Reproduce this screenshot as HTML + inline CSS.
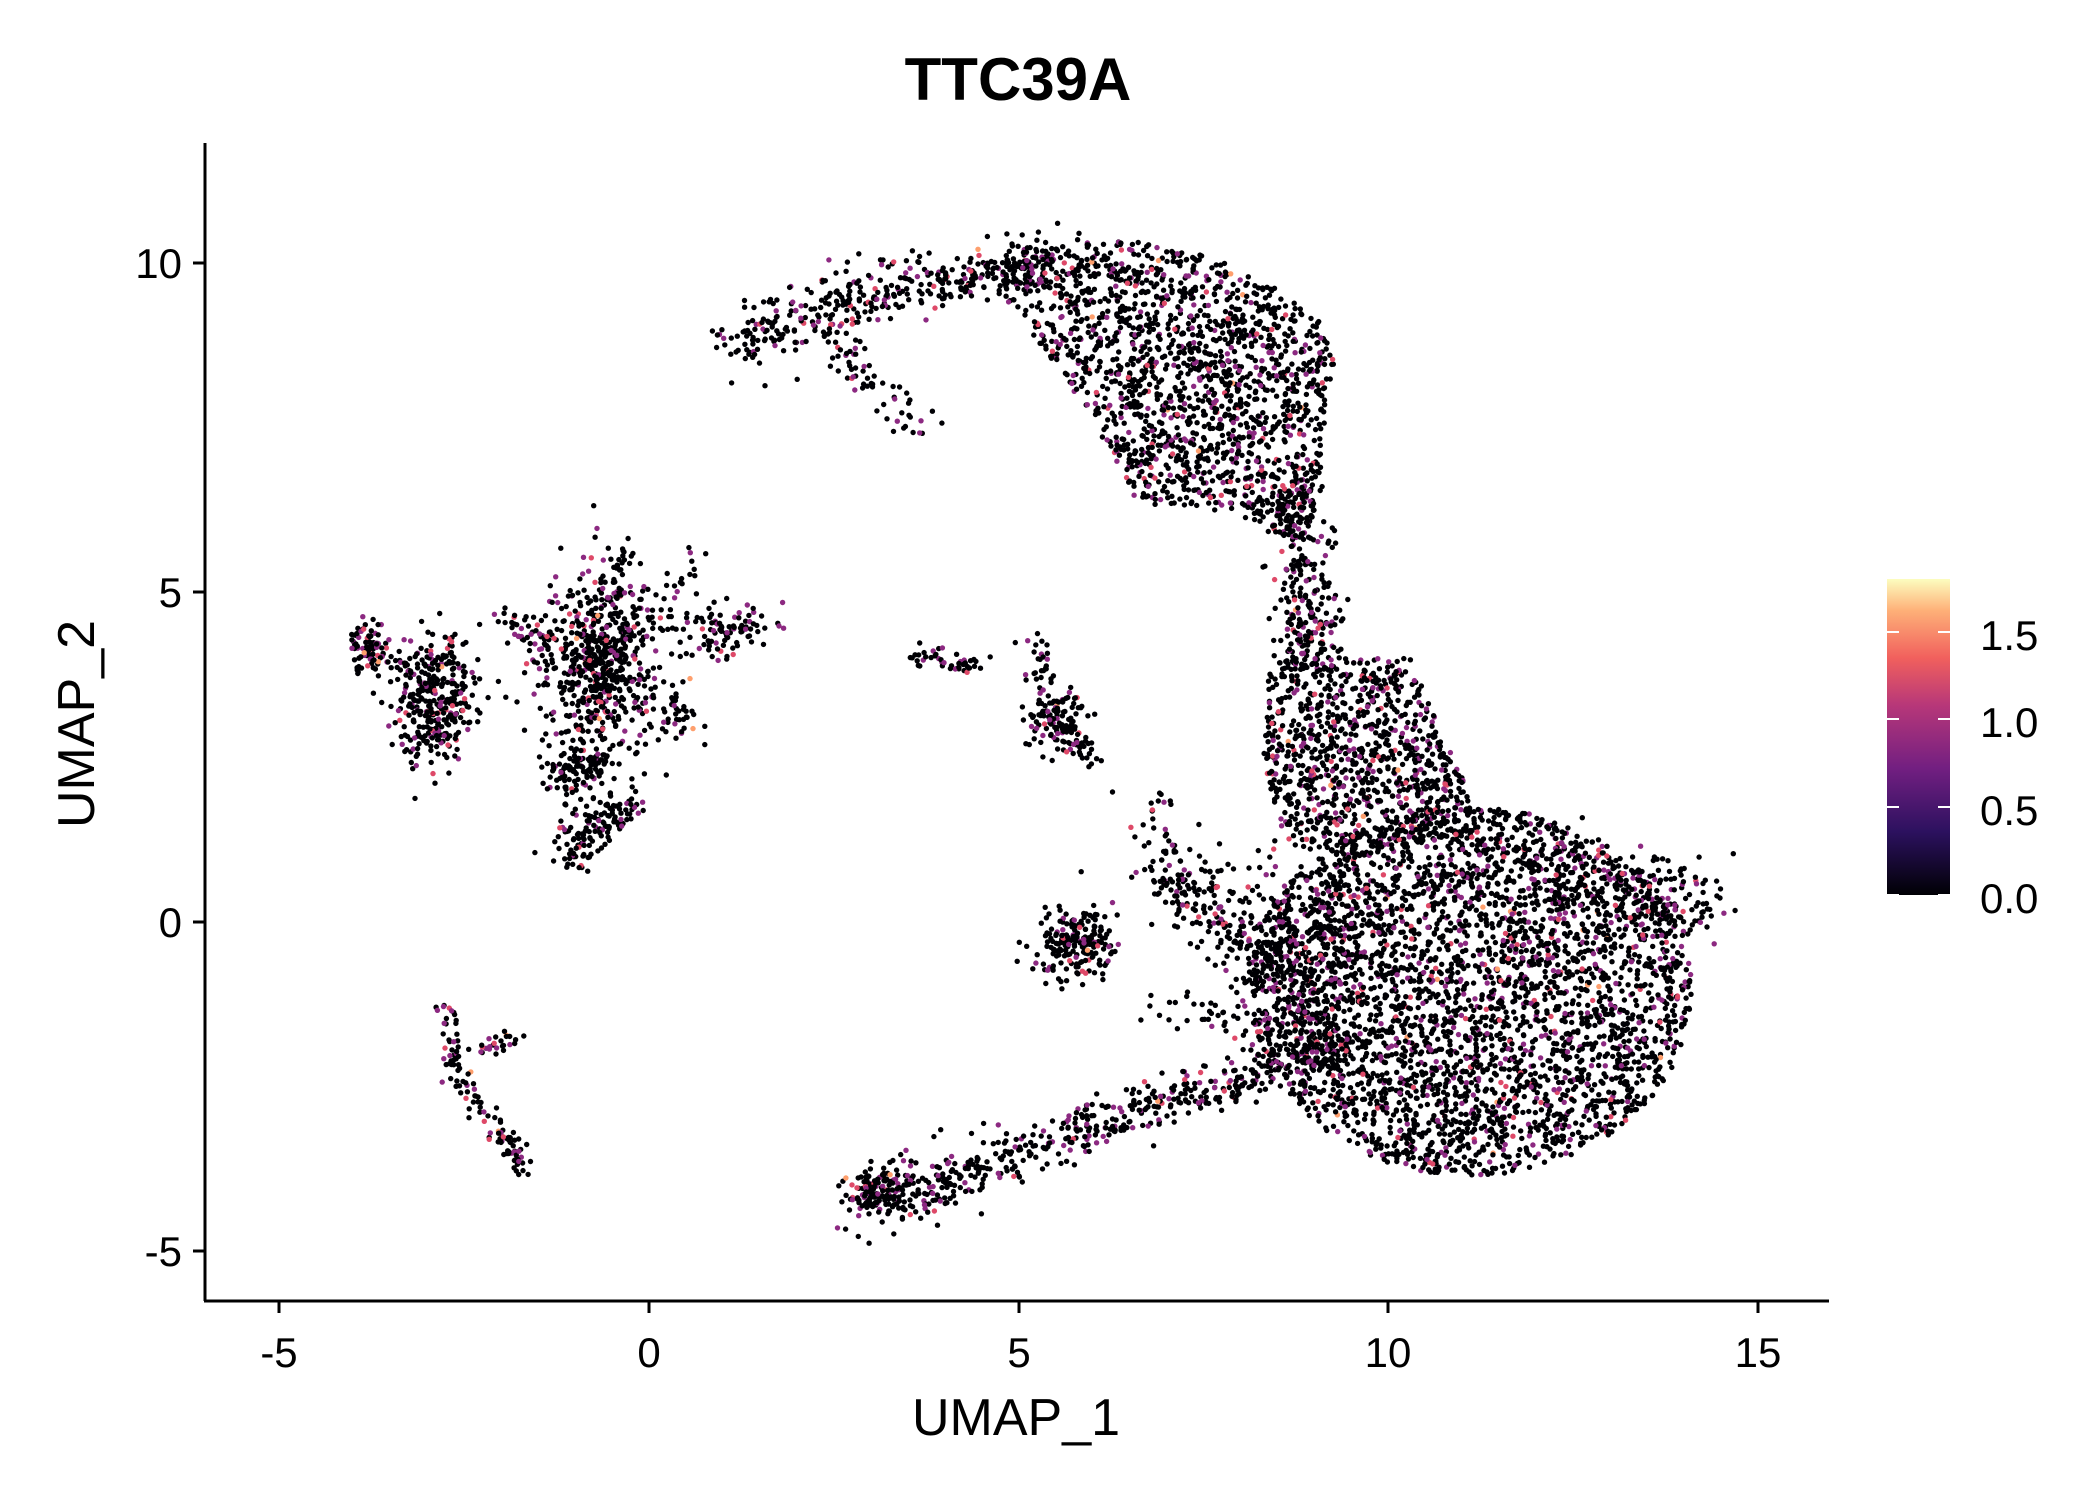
<!DOCTYPE html>
<html><head><meta charset="utf-8"><style>
html,body{margin:0;padding:0;background:#fff;}
svg{display:block;font-family:"Liberation Sans",sans-serif;}
</style></head><body>
<svg id="s" width="2100" height="1500" xmlns="http://www.w3.org/2000/svg">
<defs><linearGradient id="g" x1="0" y1="1" x2="0" y2="0">
<stop offset="0" stop-color="#000004"/><stop offset="0.2" stop-color="#2c115f"/>
<stop offset="0.4" stop-color="#721f81"/><stop offset="0.6" stop-color="#b73779"/>
<stop offset="0.75" stop-color="#f1605d"/><stop offset="0.9" stop-color="#feb078"/>
<stop offset="1" stop-color="#fcfdbf"/></linearGradient></defs>
<text x="1018" y="100" font-size="60" font-weight="bold" text-anchor="middle">TTC39A</text>
<g id="pts"></g>
<line x1="205" y1="143" x2="205" y2="1301" stroke="#000" stroke-width="3"/>
<line x1="204" y1="1301" x2="1829" y2="1301" stroke="#000" stroke-width="3"/>
<g stroke="#000" stroke-width="3">
<line x1="279" y1="1301" x2="279" y2="1313"/><line x1="649" y1="1301" x2="649" y2="1313"/>
<line x1="1019" y1="1301" x2="1019" y2="1313"/><line x1="1388" y1="1301" x2="1388" y2="1313"/>
<line x1="1758" y1="1301" x2="1758" y2="1313"/>
<line x1="193" y1="263" x2="205" y2="263"/><line x1="193" y1="592" x2="205" y2="592"/>
<line x1="193" y1="922" x2="205" y2="922"/><line x1="193" y1="1251" x2="205" y2="1251"/>
</g>
<g font-size="42" text-anchor="middle" fill="#000">
<text x="279" y="1367">-5</text><text x="649" y="1367">0</text><text x="1019" y="1367">5</text>
<text x="1388" y="1367">10</text><text x="1758" y="1367">15</text>
</g>
<g font-size="42" text-anchor="end" fill="#000">
<text x="182" y="278">10</text><text x="182" y="607">5</text><text x="182" y="937">0</text><text x="182" y="1266">-5</text>
</g>
<text x="1016" y="1435" font-size="52" text-anchor="middle">UMAP_1</text>
<text transform="translate(94,724) rotate(-90)" font-size="52" text-anchor="middle">UMAP_2</text>
<rect x="1887" y="579" width="63" height="316" fill="url(#g)"/>
<g stroke="#fff" stroke-width="2">
<line x1="1887" y1="895" x2="1899" y2="895"/><line x1="1938" y1="895" x2="1950" y2="895"/>
<line x1="1887" y1="807" x2="1899" y2="807"/><line x1="1938" y1="807" x2="1950" y2="807"/>
<line x1="1887" y1="719" x2="1899" y2="719"/><line x1="1938" y1="719" x2="1950" y2="719"/>
<line x1="1887" y1="632" x2="1899" y2="632"/><line x1="1938" y1="632" x2="1950" y2="632"/>
</g>
<g font-size="42" fill="#000">
<text x="1980" y="913">0.0</text><text x="1980" y="825">0.5</text><text x="1980" y="737">1.0</text><text x="1980" y="650">1.5</text>
</g>
</svg>
<script>
var seed=7;function r(){seed=(seed*16807)%2147483647;return seed/2147483647;}
function n(){return Math.sqrt(-2*Math.log(r()+1e-9))*Math.cos(6.2832*r());}
function X(x){return 649+x*73.95;}function Y(y){return 922-y*65.9;}
var out=[];
function col(){var q=r();if(q<0.83)return"#000004";if(q<0.96)return"#8c2981";if(q<0.995)return"#de4968";return"#fe9f6d";}
function pt(x,y){out.push('<circle cx="'+X(x).toFixed(1)+'" cy="'+Y(y).toFixed(1)+'" r="2.7" fill="'+col()+'"/>');}
function blob(cx,cy,sx,sy,k){for(var i=0;i<k;i++)pt(cx+n()*sx,cy+n()*sy);}
function inP(x,y,p){var c=false;for(var i=0,j=p.length-1;i<p.length;j=i++){var a=p[i],b=p[j];if(((a[1]>y)!=(b[1]>y))&&(x<(b[0]-a[0])*(y-a[1])/(b[1]-a[1])+a[0]))c=!c;}return c;}
function poly(p,k){var x0=1e9,x1=-1e9,y0=1e9,y1=-1e9;p.forEach(function(q){x0=Math.min(x0,q[0]);x1=Math.max(x1,q[0]);y0=Math.min(y0,q[1]);y1=Math.max(y1,q[1]);});var c=0;while(c<k){var x=x0+r()*(x1-x0),y=y0+r()*(y1-y0);if(inP(x,y,p)){pt(x,y);c++;}}}
function line(p,k,w){for(var i=0;i<k;i++){var t=r()*(p.length-1),j=Math.floor(t),f=t-j;var a=p[j],b=p[Math.min(j+1,p.length-1)];pt(a[0]+(b[0]-a[0])*f+n()*w,a[1]+(b[1]-a[1])*f+n()*w);}}
// top arc
line([[1.2,8.7],[2.2,9.3],[3.2,9.6],[4.5,9.8],[5.5,10.1]],450,0.22);
poly([[5.2,10.2],[6.5,10.35],[7.6,10.1],[8.5,9.6],[9.3,8.9],[9.1,7],[8.9,5.6],[8.4,6],[7.5,6.3],[6.6,6.3],[6.2,7.2],[5.6,8.3],[4.8,9.5]],1700);
line([[2.2,9.2],[3,8.3],[3.8,7.4]],70,0.15);
line([[8.7,6.5],[8.9,5],[9,3.9]],280,0.22);
// middle mass
poly([[8.4,4],[10.3,4],[10.6,3.2],[11,2.2],[11.2,1.4],[9.5,1],[8.6,1.2],[8.3,2.5]],1000);
// right blob
for(var i=0;i<3500;i++){var a=r()*6.283,d=Math.sqrt(r());pt(11.1+Math.cos(a)*d*3.0,-1.05+Math.sin(a)*d*2.8);}
line([[12,0.9],[13.5,0.3],[14.3,0.3]],220,0.3);
blob(9,-0.3,0.6,0.7,300);
// bottom tail
line([[2.9,-4.3],[4,-3.9],[5.5,-3.3],[7,-2.7],[8.5,-2.2],[9.5,-1.9]],600,0.2);
blob(3.1,-4.1,0.22,0.18,120);
// connection
line([[7,0.8],[7.8,0],[8.5,-0.8]],200,0.3);
line([[6.8,2],[6.9,1],[7.2,0.5]],50,0.2);
line([[6.8,-1.2],[8,-1.5],[9,-1.8]],60,0.2);
// small clusters
blob(5.8,-0.3,0.28,0.28,200);
line([[3.6,4.1],[4.5,3.9]],45,0.1);
line([[5.2,4.4],[5.4,3.5]],25,0.1);
blob(5.5,3.1,0.22,0.25,110);
line([[5.5,3],[6,2.4]],40,0.1);
// left star
blob(-0.7,3.8,0.45,0.7,420);
line([[-2,4.6],[-0.7,3.8],[0.6,3]],140,0.15);
line([[-0.4,5.8],[-0.7,3.8],[-1.1,1]],200,0.18);
line([[-0.7,3.8],[0.6,5.5]],60,0.15);
line([[0.5,4.4],[1.5,4.5]],100,0.2);
line([[-1.3,2.3],[-0.7,2.4]],80,0.15);
line([[-1.1,1],[-0.3,1.8]],120,0.15);
// far left
blob(-2.9,3.3,0.28,0.45,300);blob(-3.8,4.2,0.15,0.2,80);
line([[-3.8,4],[-3,3.8],[-2.6,4.2]],60,0.1);
// small stroke
line([[-2.7,-1.3],[-2.6,-2.3],[-2,-3.2],[-1.7,-3.8]],120,0.08);
line([[-2.3,-2],[-1.8,-1.7]],25,0.08);
document.getElementById('pts').innerHTML=out.join('');
</script>
</body></html>
